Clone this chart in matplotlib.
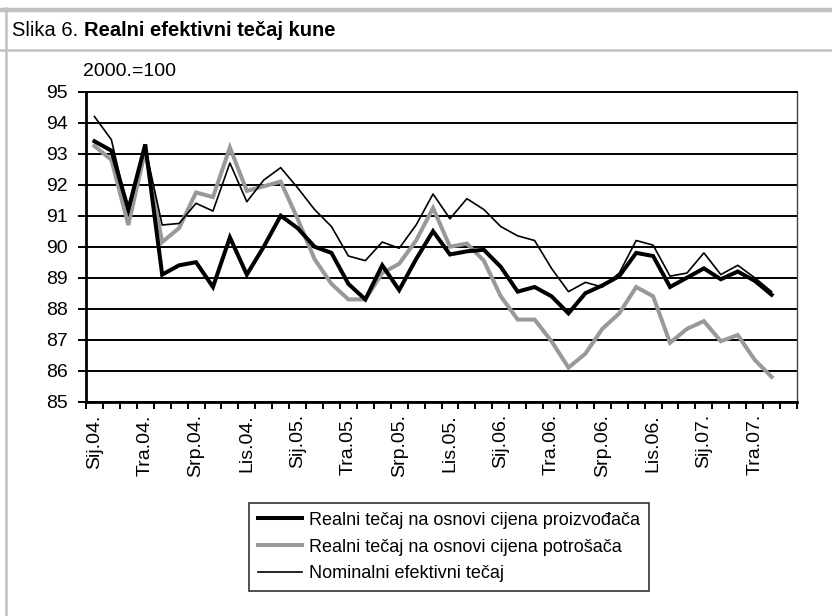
import matplotlib
matplotlib.use("Agg")
import matplotlib.pyplot as plt
from matplotlib.lines import Line2D
import numpy as np

plt.rcParams['font.family'] = ['Liberation Sans', 'DejaVu Sans']

# ---- data ----
tick_labels = ["Sij.04.", "Tra.04.", "Srp.04.", "Lis.04.", "Sij.05.", "Tra.05.", "Srp.05.",
               "Lis.05.", "Sij.06.", "Tra.06.", "Srp.06.", "Lis.06.", "Sij.07.", "Tra.07."]
n_categories = 42  # Jan 2004 - Jun 2007

producer = [93.4, 93.1, 91.2, 93.3, 89.1, 89.4, 89.5, 88.7, 90.3, 89.1,
            90.0, 91.0, 90.6, 90.0, 89.8, 88.8, 88.3, 89.4, 88.6, 89.6,
            90.5, 89.75, 89.85, 89.9, 89.35, 88.55, 88.7, 88.4, 87.85, 88.5,
            88.75, 89.05, 89.8, 89.7, 88.7, 89.0, 89.3, 88.95, 89.2, 88.9,
            88.45]
consumer = [93.25, 92.8, 90.7, 93.1, 90.15, 90.6, 91.75, 91.6, 93.2, 91.8,
            91.95, 92.1, 90.9, 89.6, 88.8, 88.3, 88.3, 89.15, 89.45, 90.2,
            91.25, 90.0, 90.1, 89.55, 88.4, 87.65, 87.65, 86.95, 86.1, 86.55,
            87.35, 87.85, 88.7, 88.4, 86.9, 87.35, 87.6, 86.95, 87.15, 86.35,
            85.8]
nominal = [94.2, 93.45, 91.1, 93.2, 90.7, 90.75, 91.4, 91.15, 92.7, 91.45,
           92.15, 92.55, 91.9, 91.2, 90.65, 89.7, 89.55, 90.15, 89.95, 90.7,
           91.7, 90.9, 91.55, 91.2, 90.65, 90.35, 90.2, 89.3, 88.55, 88.85,
           88.7, 89.15, 90.2, 90.05, 89.05, 89.15, 89.8, 89.1, 89.4, 89.0,
           88.55]

series_names = ["Realni tečaj na osnovi cijena proizvođača",
                "Realni tečaj na osnovi cijena potrošača",
                "Nominalni efektivni tečaj"]

W, H = 832, 616
fig = plt.figure(figsize=(W / 100, H / 100), dpi=100)
fig.patch.set_facecolor("white")

# frame lines
border = "#c0c0c0"
fig.add_artist(Line2D([0, 1], [1 - 9.5 / H] * 2, color=border, lw=3.2, transform=fig.transFigure))
fig.add_artist(Line2D([0, 1], [1 - 50 / H] * 2, color=border, lw=1.8, transform=fig.transFigure))
fig.add_artist(Line2D([5.5 / W] * 2, [0, 1 - 8 / H], color=border, lw=1.8, transform=fig.transFigure))

# title
t1 = fig.text(12 / W, 1 - 31 / H, "Slika 6. ", fontsize=14.5, va="center", ha="left")
fig.canvas.draw()
bb = t1.get_window_extent()
fig.text(bb.x1 / W, 1 - 31 / H, "Realni efektivni tečaj kune", fontsize=14.5,
         fontweight="bold", va="center", ha="left")

ax = fig.add_axes([86 / W, 1 - 401.7 / H, (797 - 86) / W, (401.7 - 91.7) / H])

x = np.arange(len(producer))
ax.plot(x, producer, color="black", lw=2.9, solid_joinstyle="miter", label=series_names[0], zorder=3)
ax.plot(x, consumer, color="#999999", lw=2.9, solid_joinstyle="miter", label=series_names[1], zorder=2)
ax.plot(x, nominal, color="black", lw=1.2, label=series_names[2], zorder=4)

ax.set_xlim(-0.5, n_categories - 0.5)
ax.set_ylim(85, 95)
ax.set_yticks(np.arange(85, 96, 1))
ax.grid(axis="y", color="black", lw=1.4)
ax.set_axisbelow(True)

ax.set_xticks(np.arange(-0.5, n_categories, 1))
ax.set_xticklabels([])
ax.set_xticks(np.arange(0, len(tick_labels) * 3, 3), minor=True)
ax.set_xticklabels(tick_labels, minor=True, rotation=90, fontsize=14)
ax.tick_params(axis="x", which="major", direction="out", length=5, width=1.4)
ax.tick_params(axis="x", which="minor", length=0, pad=9)
ax.tick_params(axis="y", direction="out", length=6, width=1.4, labelsize=14, pad=7)

for s in ["left", "bottom"]:
    ax.spines[s].set_linewidth(2)
ax.spines["top"].set_linewidth(1.4)
ax.spines["right"].set_linewidth(1.0)
ax.spines["right"].set_color("#444444")

fig.text(83 / W, 1 - 71 / H, "2000.=100", fontsize=14, va="center", ha="left")

leg = ax.legend(loc="center", bbox_to_anchor=(449 / W, 1 - 547 / H), bbox_transform=fig.transFigure,
                fontsize=13, frameon=True, fancybox=False, edgecolor="black", handlelength=2.4,
                handletextpad=0.4, labelspacing=0.55, borderpad=0.5)
leg.get_frame().set_linewidth(1.2)

fig.savefig("out.png", dpi=100, facecolor="white")
